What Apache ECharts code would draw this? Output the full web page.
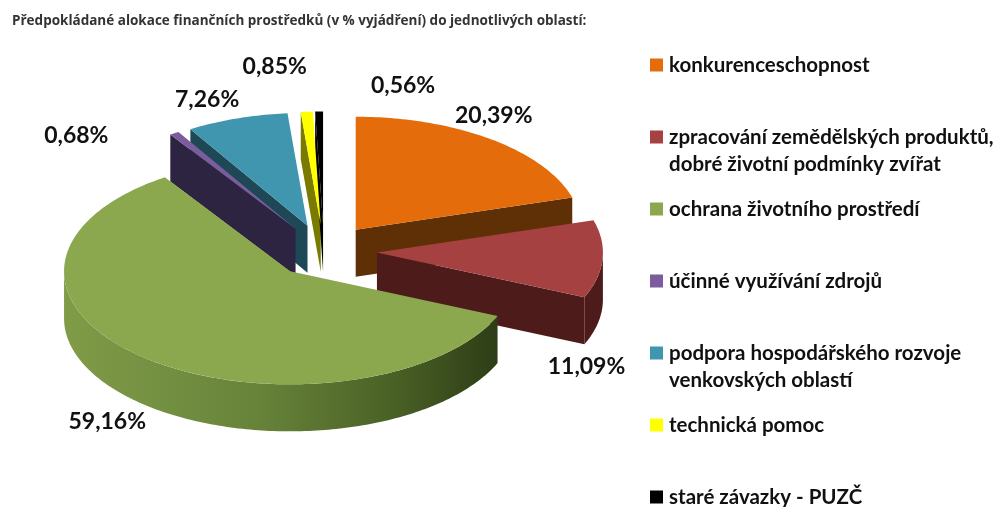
<!DOCTYPE html>
<html>
<head>
<meta charset="utf-8">
<script src="https://cdn.jsdelivr.net/npm/echarts@6/dist/echarts.min.js"></script>
<style>
  html, body { margin: 0; padding: 0; background: #fff; }
  #chart { width: 1004px; height: 507px; }
</style>
</head>
<body>
<div id="chart"></div>
<script>
// data
var categories = [
  'konkurenceschopnost',
  'zpracování zemědělských produktů,\ndobré životní podmínky zvířat',
  'ochrana životního prostředí',
  'účinné využívání zdrojů',
  'podpora hospodářského rozvoje\nvenkovských oblastí',
  'technická pomoc',
  'staré závazky - PUZČ'
];
var values = [20.39, 11.09, 59.16, 0.68, 7.26, 0.85, 0.56];

// styles
var topColors = ['#E46C0A', '#A54141', '#8CA84F', '#7B5D9E', '#4196AF', '#FFFF00', '#000000'];
var sideColors = ['#5F2F05', '#4E1B1B', null, '#2D2442', '#1F4856', '#7A7A00', '#000000'];
var labelShift = [[3, -24], [-16, 107], [-38, 63], [-98, 2], [-30, -19], [-32, -45], [84, -26]];

var CX = 324, CY = 251, RX = 226, TILT = 0.5, RY = RX * TILT, H = 47, EXPLODE = 53;

var total = values.reduce(function (a, b) { return a + b; }, 0);
var starts = [];
var acc = 0;
values.forEach(function (v) { starts.push(acc); acc += v; });

function fmt(v) { return v.toFixed(2).replace('.', ',') + '%'; }

function pt(ox, oy, a, dy) {
  return [ox + RX * Math.sin(a), oy - RY * Math.cos(a) + (dy || 0)];
}
function arc(ox, oy, a0, a1, dy) {
  var n = Math.max(2, Math.ceil((a1 - a0) / (Math.PI / 180)));
  var out = [];
  for (var k = 0; k <= n; k++) out.push(pt(ox, oy, a0 + (a1 - a0) * k / n, dy));
  return out;
}

var greenSide = new echarts.graphic.LinearGradient(0, 0, 1, 0, [
  { offset: 0, color: '#809C48' },
  { offset: 0.45, color: '#67833A' },
  { offset: 0.75, color: '#4B6226' },
  { offset: 1, color: '#2E3D16' }
]);

function renderItem(params, api) {
  var i = params.dataIndex;
  var a0 = starts[i] / total * 2 * Math.PI;
  var a1 = (starts[i] + api.value(0)) / total * 2 * Math.PI;
  var mid = (a0 + a1) / 2;
  var ox = CX + EXPLODE * Math.sin(mid);
  var oy = CY - EXPLODE * TILT * Math.cos(mid);
  var zBase = Math.round((1 - Math.cos(mid)) * 100) * 4;
  var side = sideColors[i] || greenSide;
  var children = [];

  // outer curved wall (front half only)
  var w0 = Math.max(a0, Math.PI / 2), w1 = Math.min(a1, 1.5 * Math.PI);
  if (w1 > w0) {
    var wall = arc(ox, oy, w0, w1, 0).concat(arc(ox, oy, w0, w1, H).reverse());
    children.push({ type: 'polygon', z2: zBase, shape: { points: wall }, style: { fill: side } });
  }
  // radial faces
  [[a1, Math.sin(a1) > 0.001], [a0, Math.sin(a0) < -0.001]].forEach(function (f) {
    if (!f[1]) return;
    var p = pt(ox, oy, f[0]);
    children.push({
      type: 'polygon', z2: zBase + 1,
      shape: { points: [[ox, oy], p, [p[0], p[1] + H], [ox, oy + H]] },
      style: { fill: side }
    });
  });
  // top face
  children.push({
    type: 'polygon', z2: zBase + 2,
    shape: { points: [[ox, oy]].concat(arc(ox, oy, a0, a1, 0)) },
    style: { fill: topColors[i] }
  });
  // label
  var lp = pt(ox, oy, mid);
  children.push({
    type: 'text', z2: 2000,
    x: lp[0] + labelShift[i][0], y: lp[1] + labelShift[i][1],
    style: {
      text: fmt(api.value(0)), fill: '#111', fontFamily: 'Lato', fontWeight: 'bold',
      fontSize: 23, align: 'center', verticalAlign: 'middle'
    }
  });
  return { type: 'group', children: children };
}

var legendItems = [];
categories.forEach(function (name, i) {
  var y = 65 + i * 72;
  legendItems.push({
    type: 'rect', left: 650, top: y - 6.5,
    shape: { width: 13, height: 13 }, style: { fill: topColors[i] }
  });
  legendItems.push({
    type: 'text', left: 669, top: y - 13.5,
    style: { text: name, fill: '#111', fontFamily: 'Lato', fontWeight: 'bold', fontSize: 20.5, lineHeight: 27 }
  });
});

var chart = echarts.init(document.getElementById('chart'));
chart.setOption({
  animation: false,
  title: {
    text: 'Předpokládané alokace finančních prostředků (v % vyjádření) do jednotlivých oblastí:',
    left: 7, top: 9,
    textStyle: { fontSize: 13.5, fontWeight: 'bold', color: '#333', fontFamily: 'Open Sans' }
  },
  graphic: legendItems,
  series: [{
    type: 'custom',
    coordinateSystem: 'none',
    silent: true,
    renderItem: renderItem,
    data: values.map(function (v, i) { return { name: categories[i], value: v }; })
  }]
});
</script>
</body>
</html>
